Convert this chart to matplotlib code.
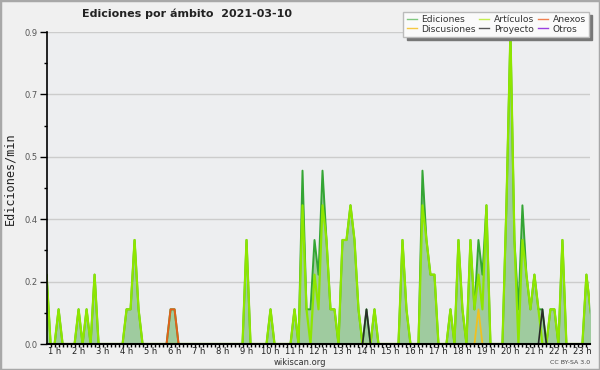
import numpy as np
import matplotlib.pyplot as plt
from matplotlib.lines import Line2D
from matplotlib.patches import Rectangle
from matplotlib.ticker import FixedLocator, MultipleLocator, FuncFormatter

# edits per minute, one value per 10-minute slot (6 per hour)
ediciones = [
    0, 0, 0, 0, 0.2, 0,          # 0 h
    0, 0.1, 0, 0, 0, 0,          # 1 h
    0.1, 0, 0.1, 0, 0.2, 0,      # 2 h
    0, 0, 0, 0, 0, 0,            # 3 h
    0.1, 0.1, 0.3, 0.1, 0, 0,    # 4 h
    0, 0, 0, 0, 0, 0.1,          # 5 h
    0.1, 0, 0, 0, 0, 0,          # 6 h
    0, 0, 0, 0, 0, 0,            # 7 h
    0, 0, 0, 0, 0, 0,            # 8 h
    0.3, 0, 0, 0, 0, 0,          # 9 h
    0.1, 0, 0, 0, 0, 0,          # 10 h
    0.1, 0, 0.5, 0.1, 0.1, 0.3,  # 11 h
    0.2, 0.5, 0.3, 0.1, 0.1, 0,  # 12 h
    0.3, 0.3, 0.4, 0.3, 0.1, 0,  # 13 h
    0.1, 0, 0.1, 0, 0, 0,        # 14 h
    0, 0, 0, 0.3, 0.1, 0,        # 15 h
    0, 0, 0.5, 0.3, 0.2, 0.2,    # 16 h
    0, 0, 0, 0.1, 0, 0.3,        # 17 h
    0.1, 0, 0.3, 0.1, 0.3, 0.2,  # 18 h
    0.4, 0, 0, 0, 0, 0.4,        # 19 h
    0.9, 0.3, 0.1, 0.4, 0.2, 0.1,  # 20 h
    0.2, 0.1, 0.1, 0, 0.1, 0.1,  # 21 h
    0, 0.3, 0, 0, 0, 0,          # 22 h
    0, 0.2, 0.1, 0, 0, 0,        # 23 h
]

articulos = [
    0, 0, 0, 0, 0.2, 0,
    0, 0.1, 0, 0, 0, 0,
    0.1, 0, 0.1, 0, 0.2, 0,
    0, 0, 0, 0, 0, 0,
    0.1, 0.1, 0.3, 0.1, 0, 0,
    0, 0, 0, 0, 0, 0,
    0, 0, 0, 0, 0, 0,
    0, 0, 0, 0, 0, 0,
    0, 0, 0, 0, 0, 0,
    0.3, 0, 0, 0, 0, 0,
    0.1, 0, 0, 0, 0, 0,
    0.1, 0, 0.4, 0.1, 0, 0.2,
    0.1, 0.4, 0.3, 0.1, 0.1, 0,
    0.3, 0.3, 0.4, 0.3, 0.1, 0,
    0, 0, 0.1, 0, 0, 0,
    0, 0, 0, 0.3, 0.1, 0,
    0, 0, 0.4, 0.3, 0.2, 0.2,
    0, 0, 0, 0.1, 0, 0.3,
    0.1, 0, 0.3, 0.1, 0.2, 0.1,
    0.4, 0, 0, 0, 0, 0.4,
    0.9, 0.3, 0, 0.3, 0.2, 0.1,
    0.2, 0.1, 0, 0, 0.1, 0.1,
    0, 0.3, 0, 0, 0, 0,
    0, 0.2, 0.1, 0, 0, 0,
]

# sparse series: slot -> value
anexos = {35: 0.1, 36: 0.1}
discusiones = {112: 0.1}
proyecto = {84: 0.1, 128: 0.1}
otros = {}

hours = list(range(1, 24))
hour_labels = [f"{h} h" for h in hours]


def dense(d):
    arr = np.zeros(144)
    for k, v in d.items():
        arr[k] = v
    return arr


x = np.arange(144) / 6

fig = plt.figure(figsize=(6, 3.7), dpi=100, facecolor='#f0f0f0')
fig.patches.append(Rectangle((0, 0), 1, 1, transform=fig.transFigure,
                             fill=False, edgecolor='#a8a8a8', lw=2.5))
ax = fig.add_axes([47 / 600, 26 / 370, 543 / 600, 312 / 370])
ax.set_facecolor('#edeef0')

ax.fill_between(x, 0, ediciones, color='#9fcb9f', lw=0, zorder=1)
ax.plot(x, ediciones, color='#34a534', lw=1.4, zorder=2)
ax.plot(x, articulos, color='#8ee600', lw=1.6, zorder=2)
ax.plot(x, dense(discusiones), color='#f0c020', lw=1.3, zorder=2)
ax.plot(x, dense(proyecto), color='#2a2a2a', lw=1.2, zorder=2)
ax.plot(x, dense(anexos), color='#e2601a', lw=1.4, zorder=2)
ax.plot(x, dense(otros), color='#9a40e0', lw=1.2, zorder=2)

ax.set_xlim(4.1 / 6, 139.9 / 6)
ax.set_ylim(0, 0.9)
ax.xaxis.set_major_locator(FixedLocator(hours))
ax.set_xticklabels(hour_labels)
ax.xaxis.set_minor_locator(MultipleLocator(1 / 6))
ax.yaxis.set_major_locator(FixedLocator(np.linspace(0, 0.9, 6)))
ax.yaxis.set_minor_locator(FixedLocator(np.linspace(0.09, 0.81, 5)))
ax.yaxis.set_major_formatter(FuncFormatter(lambda v, p: f"{v:.1f}"))

ax.tick_params(axis='x', which='both', direction='out', length=2.5, width=1,
               pad=-0.5, labelsize=6, labelcolor='#222222')
ax.tick_params(axis='y', which='major', direction='out', length=5, width=1,
               pad=1.5, labelsize=6, labelcolor='#555555')
ax.tick_params(axis='y', which='minor', direction='out', length=2.5, width=1)

ax.grid(axis='y', which='major', color='#cccccc', lw=1)
ax.set_axisbelow(True)
for s in ['top', 'right']:
    ax.spines[s].set_visible(False)
ax.spines['left'].set_linewidth(1.2)
ax.spines['bottom'].set_linewidth(1.5)

fig.text(187 / 600, 1 - 14 / 370, 'Ediciones por ámbito  2021-03-10',
         ha='center', va='center', fontsize=8, fontweight='bold', color='#222222')
fig.text(10 / 600, 1 - 179 / 370, 'Ediciones/min', rotation=90, ha='center',
         va='center', family='DejaVu Sans Mono', fontsize=8.5, color='#222222')
fig.text(0.5, 1 - 362.5 / 370, 'wikiscan.org', ha='center', va='center',
         fontsize=6, color='#333333')
fig.text(590 / 600, 1 - 362 / 370, 'CC BY-SA 3.0', ha='right', va='center',
         fontsize=4.5, color='#444444')

labels = ['Ediciones', 'Discusiones', 'Artículos', 'Proyecto', 'Anexos', 'Otros']
colors = ['#80c880', '#f5c842', '#c4ee50', '#555555', '#f08050', '#9a40e0']
handles = [Line2D([0], [0], color=c, lw=1) for c in colors]
leg = fig.legend(handles, labels, ncol=3, loc='upper right',
                 bbox_to_anchor=(589 / 600, 1 - 12 / 370),
                 bbox_transform=fig.transFigure, fontsize=6.6, frameon=True,
                 fancybox=False, shadow={'ox': 2.5, 'oy': -2.5, 'color': '#777777', 'alpha': 1},
                 borderaxespad=0, handlelength=1.1, handletextpad=0.5,
                 columnspacing=0.4, labelspacing=0.05, borderpad=0.35,
                 edgecolor='#bbbbbb', facecolor='#fafafa', framealpha=1)
for t in leg.get_texts():
    t.set_color('#333333')

fig.savefig('out.png', dpi=100, facecolor=fig.get_facecolor())
